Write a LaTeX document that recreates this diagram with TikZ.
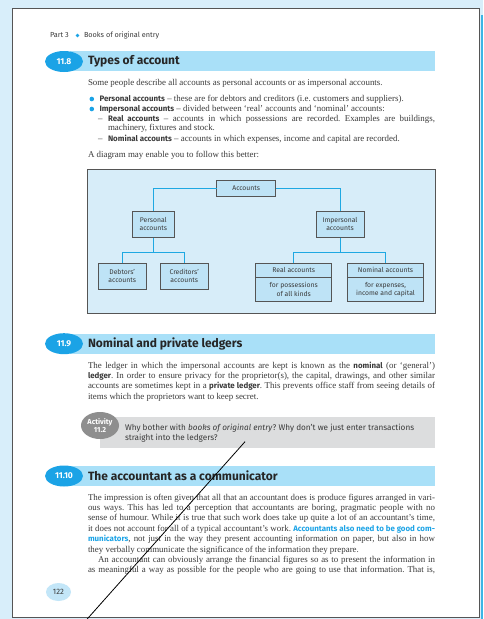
\documentclass[tikz,border=0pt]{standalone}
\usepackage{fontspec}
\setmainfont{Liberation Serif}
\setsansfont{Fira Sans}
\usetikzlibrary{shapes.geometric}
\definecolor{bgblue}{HTML}{D8EEFA}
\definecolor{stripblue}{HTML}{3CB5E5}
\definecolor{barblue}{HTML}{A9E0F8}
\definecolor{secblue}{HTML}{1BA3E6}
\definecolor{diagbg}{HTML}{D7EDF9}
\definecolor{nodeblue}{HTML}{BEE3F6}
\definecolor{connblue}{HTML}{1EA8E2}
\definecolor{actgray}{HTML}{DCDDDE}
\definecolor{actdark}{HTML}{8E8E8E}
\definecolor{pnblue}{HTML}{C3E6F8}
\definecolor{txt}{HTML}{3A3A3A}
\definecolor{frame}{HTML}{555555}
\newcommand\jline[2]{\makebox[#1][s]{#2}}
\newcommand\bs[1]{{\sffamily\bfseries\fontsize{7.9}{10}\selectfont #1}}
\frenchspacing
\begin{document}
\begin{tikzpicture}[x=1pt,y=-1pt,
  every node/.style={inner sep=0pt, outer sep=0pt},
  body/.style={anchor=mid west, text=txt, font=\frenchspacing\fontsize{8.9}{10}\selectfont},
  acttext/.style={anchor=mid west, text=txt, font=\sffamily\fontsize{8.2}{9}\selectfont},
  sectitle/.style={anchor=west, text=black!85, font=\sffamily\bfseries\fontsize{12}{13}\selectfont},
  secnum/.style={ellipse, fill=secblue, minimum width=38pt, minimum height=21pt, text=white, font=\sffamily\bfseries\fontsize{8.5}{10}\selectfont},
  bar/.style={fill=barblue},
  dbox/.style={draw=frame, line width=0.6pt, fill=nodeblue, text=txt, align=center, font=\sffamily\fontsize{6.8}{8.3}\selectfont},
  conn/.style={draw=connblue, line width=0.9pt},
  bulletdot/.style={circle, fill=secblue, minimum size=4.6pt},
  dashmark/.style={anchor=mid west, text=txt, font=\fontsize{8.9}{10}\selectfont}
]
\useasboundingbox (0,0) rectangle (483,619);
% background and page
\fill[bgblue] (0,0) rectangle (483,619);
\fill[stripblue] (480.5,15) rectangle (483,619);
\fill[white] (12.3,8.3) rectangle (479.7,617.7);
\draw[frame, line width=1.3pt] (12.3,617.7) -- (12.3,8.3) -- (479.7,8.3) -- (479.7,617.7) -- cycle;

% header
\node[anchor=mid west, text=txt, font=\sffamily\fontsize{7.3}{8}\selectfont] (hpart) at (50,35.5) {Part 3};
\node[circle, fill=secblue, minimum size=3.6pt] (hdot) at (77.5,35.5) {};
\node[anchor=mid west, text=txt, font=\sffamily\fontsize{7.3}{8}\selectfont] (hbook) at (84,35.5) {Books of original entry};

% section 11.8
\fill[bar] (70,51) rectangle (435,71);
\node[secnum] (s118) at (64,61.5) {11.8};
\node[sectitle] (t118) at (88,61.5) {Types of account};
\node[body] (l1) at (88,83) {Some people describe all accounts as personal accounts or as impersonal accounts.};
\node[bulletdot] (b1) at (91.8,99) {};
\node[body] (l2) at (99.5,99) {\bs{Personal accounts} – these are for debtors and creditors (i.e. customers and suppliers).};
\node[bulletdot] (b2) at (91.8,109) {};
\node[body] (l3) at (99.5,109) {\bs{Impersonal accounts} – divided between ‘real’ accounts and ‘nominal’ accounts:};
\node[dashmark] (d1) at (98,119) {–};
\node[body] (l4) at (108,119) {\jline{327pt}{\bs{Real accounts} – accounts in which possessions are recorded. Examples are buildings,}};
\node[body] (l5) at (108,128.7) {machinery, fixtures and stock.};
\node[dashmark] (d2) at (98,139) {–};
\node[body] (l6) at (108,139) {\bs{Nominal accounts} – accounts in which expenses, income and capital are recorded.};
\node[body] (l7) at (88,155) {A diagram may enable you to follow this better:};

% diagram
\draw[frame, line width=0.8pt, fill=diagbg] (87.3,169.3) rectangle (435,313.3);
\node[dbox, minimum width=59pt, minimum height=15.7pt] (acc) at (246.2,188) {Accounts};
\node[dbox, minimum width=42.3pt, minimum height=26.7pt] (pers) at (153.3,224.3) {Personal\\accounts};
\node[dbox, minimum width=48pt, minimum height=26.7pt] (imp) at (340,224.3) {Impersonal\\accounts};
\node[dbox, minimum width=47.7pt, minimum height=25.7pt] (deb) at (122.2,276.2) {Debtors’\\accounts};
\node[dbox, minimum width=48.3pt, minimum height=25.7pt] (cred) at (184.2,276.2) {Creditors’\\accounts};
\node[dbox, minimum width=76pt, minimum height=14pt] (real) at (293.7,270.3) {Real accounts};
\node[dbox, minimum width=76pt, minimum height=24.4pt] (realsub) at (293.7,289.5) {for possessions\\of all kinds};
\node[dbox, minimum width=75.6pt, minimum height=14pt] (nom) at (385.5,270.3) {Nominal accounts};
\node[dbox, minimum width=75.6pt, minimum height=24.4pt] (nomsub) at (385.5,289.5) {for expenses,\\income and capital};
\coordinate (pj) at (153.3,252.7);
\coordinate (ij) at (340,252.7);
\draw[conn] (acc.west) -| (pers.north);
\draw[conn] (acc.east) -| (imp.north);
\draw[conn] (pers.south) -- (pj);
\draw[conn] (deb.north) -- (deb.north |- pj) -- (cred.north |- pj) -- (cred.north);
\draw[conn] (imp.south) -- (ij);
\draw[conn] (real.north) -- (real.north |- ij) -- (nom.north |- ij) -- (nom.north);

% section 11.9
\fill[bar] (70,334) rectangle (435,353.5);
\node[secnum] (s119) at (64,343.7) {11.9};
\node[sectitle] (t119) at (88,343.7) {Nominal and private ledgers};
\node[body] (m1) at (88,366) {\jline{347pt}{The ledger in which the impersonal accounts are kept is known as the \bs{nominal} (or ‘general’)}};
\node[body] (m2) at (88,376.3) {\jline{347pt}{\bs{ledger}. In order to ensure privacy for the proprietor(s), the capital, drawings, and other similar}};
\node[body] (m3) at (88,386.5) {\jline{347pt}{accounts are sometimes kept in a \bs{private ledger}. This prevents office staff from seeing details of}};
\node[body] (m4) at (88,396.7) {items which the proprietors want to keep secret.};

% activity
\fill[actgray] (100,417) rectangle (435,448);
\node[ellipse, fill=actdark, minimum width=38pt, minimum height=27pt, text=white, align=center, font=\sffamily\bfseries\fontsize{7.3}{8}\selectfont] (act) at (100,425.5) {Activity\\11.2};
\node[acttext] (a1) at (125,427.7) {Why bother with \emph{books of original entry}? Why don’t we just enter transactions};
\node[acttext] (a2) at (125,437.8) {straight into the ledgers?};

% section 11.10
\fill[bar] (70,466) rectangle (435,486);
\node[secnum] (s1110) at (64,476) {11.10};
\node[sectitle] (t1110) at (88,476) {The accountant as a communicator};
\node[body] (n1) at (88,497.7) {\jline{347pt}{The impression is often given that all that an accountant does is produce figures arranged in vari-}};
\node[body] (n2) at (88,508.2) {\jline{347pt}{ous ways. This has led to a perception that accountants are boring, pragmatic people with no}};
\node[body] (n3) at (88,518.6) {\jline{347pt}{sense of humour. While it is true that such work does take up quite a lot of an accountant’s time,}};
\node[body] (n4) at (88,529) {\jline{347pt}{it does not account for all of a typical accountant’s work. \textcolor{secblue}{\bs{Accountants also need to be good com-}}}};
\node[body] (n5) at (88,539.3) {\jline{347pt}{\textcolor{secblue}{\bs{municators}}, not just in the way they present accounting information on paper, but also in how}};
\node[body] (n6) at (88,549.7) {they verbally communicate the significance of the information they prepare.};
\node[body] (n7) at (98,560) {\jline{337pt}{An accountant can obviously arrange the financial figures so as to present the information in}};
\node[body] (n8) at (88,570.5) {\jline{347pt}{as meaningful a way as possible for the people who are going to use that information. That is,}};

% page number
\node[ellipse, fill=pnblue, minimum width=25pt, minimum height=18pt, text=txt, font=\sffamily\fontsize{7.8}{9}\selectfont] (pn) at (58.5,592) {122};

% diagonal stroke
\coordinate (ds) at (245,441.7);
\coordinate (de) at (87.2,619);
\draw[black, line width=0.8pt] (ds) -- (de);
\end{tikzpicture}
\end{document}
